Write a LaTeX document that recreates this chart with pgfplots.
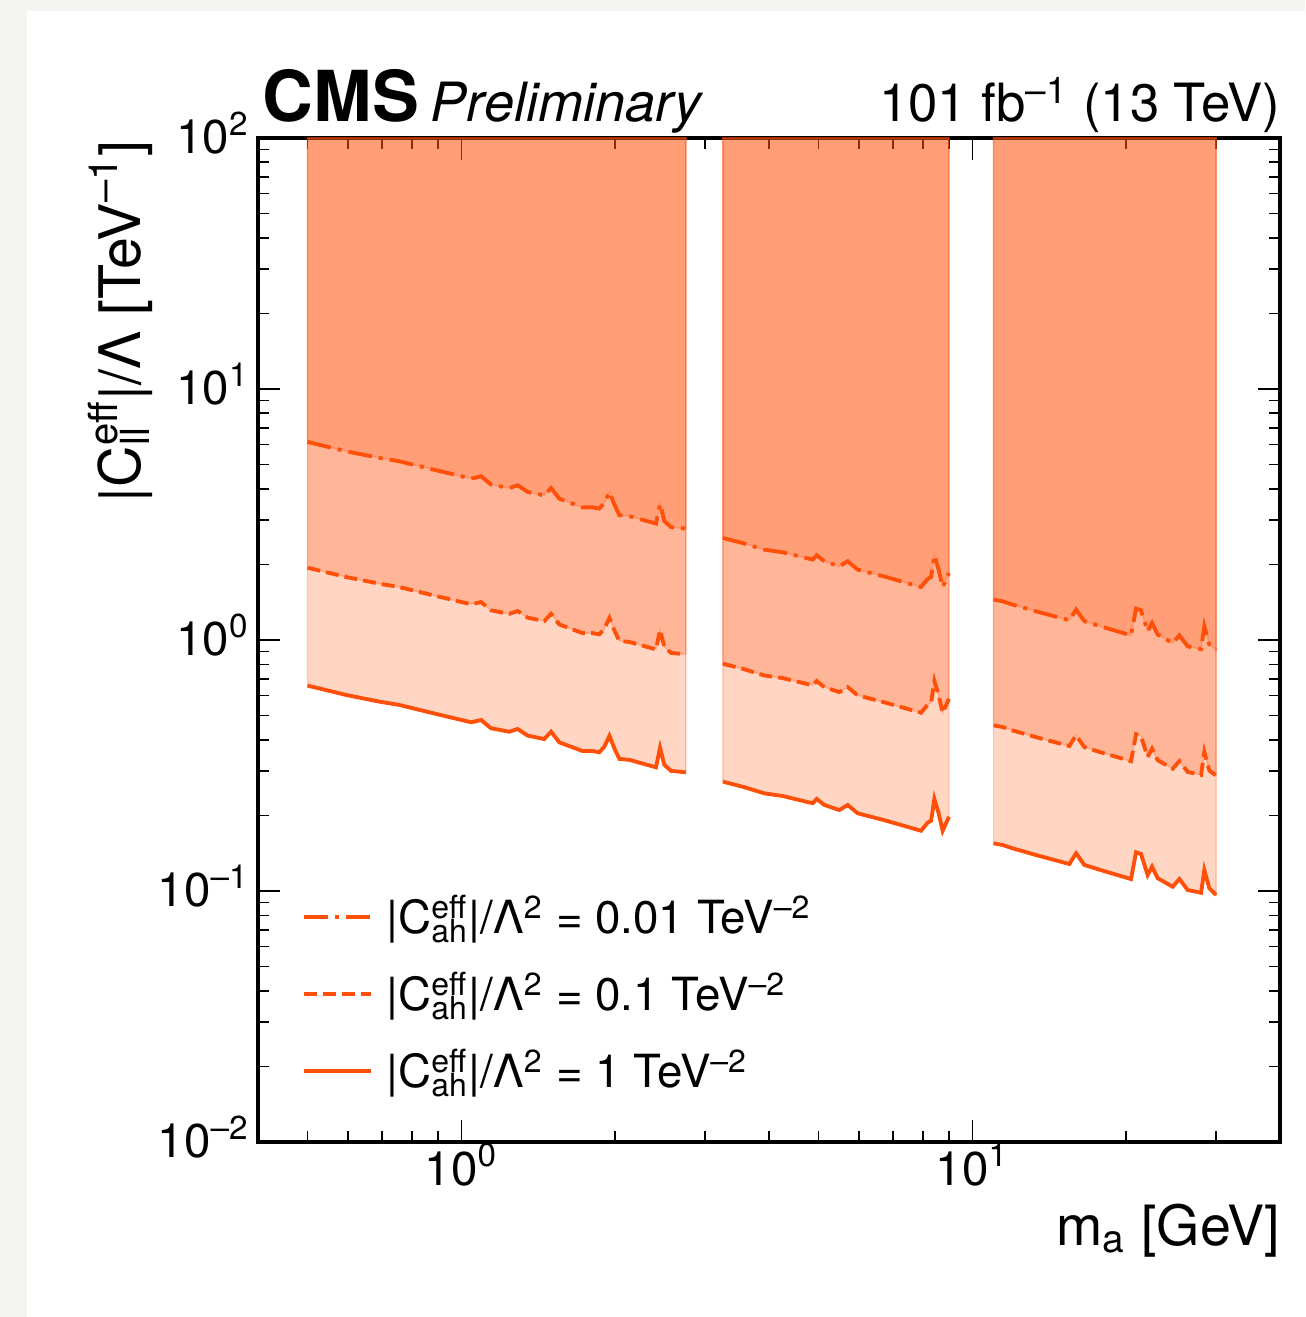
\documentclass[border=0pt]{standalone}
\usepackage{pgfplots}
\pgfplotsset{compat=1.18}
\usepackage{pgfplotstable}
\usepgfplotslibrary{fillbetween}
\usepackage{fontspec}
\setmainfont{TeX Gyre Heros}

\definecolor{lc}{RGB}{255,80,10}
\definecolor{framegray}{RGB}{244,244,240}

% stacked superscript / subscript
\newcommand\supsub[2]{%
  \setbox0=\hbox{\textsuperscript{#1}}%
  \setbox2=\hbox{\textsubscript{#2}}%
  \ifdim\wd0>\wd2 \rlap{\box2}\box0\else\rlap{\box0}\box2\fi}

% columns: m_a, limit for |C_ah|/L^2 = 1, 0.1, 0.01 TeV^-2
\pgfplotstableread{
x     s      d      dd
0.50  0.658  1.941  6.152
0.595 0.604  1.782  5.647
0.691 0.568  1.676  5.311
0.756 0.551  1.625  5.152
0.866 0.515  1.519  4.815
1.045 0.470  1.387  4.395
1.093 0.480  1.416  4.488
1.143 0.445  1.313  4.161
1.241 0.431  1.271  4.030
1.289 0.442  1.304  4.133
1.348 0.416  1.227  3.890
1.453 0.403  1.189  3.768
1.498 0.431  1.271  4.030
1.555 0.391  1.153  3.656
1.727 0.361  1.065  3.375
1.807 0.361  1.065  3.375
1.862 0.357  1.053  3.338
1.905 0.376  1.109  3.516
1.949 0.415  1.224  3.880
1.993 0.370  1.092  3.460
2.038 0.336  0.991  3.142
2.132 0.333  0.982  3.114
2.404 0.311  0.917  2.908
2.448 0.372  1.097  3.478
2.496 0.318  0.938  2.973
2.573 0.301  0.888  2.814
2.75  0.297  0.876  2.777
}\regA

\pgfplotstableread{
x     s      d      dd
3.25  0.2726 0.804  2.549
3.552 0.2603 0.768  2.434
3.917 0.2449 0.722  2.290
4.255 0.2390 0.705  2.235
4.870 0.2236 0.660  2.091
4.959 0.2326 0.686  2.175
5.133 0.2201 0.649  2.058
5.492 0.2102 0.620  1.965
5.702 0.2201 0.649  2.058
5.964 0.2040 0.602  1.907
6.779 0.1906 0.562  1.782
7.936 0.1738 0.513  1.625
8.176 0.1871 0.552  1.749
8.303 0.1906 0.562  1.782
8.427 0.2326 0.686  2.175
8.590 0.2040 0.602  1.907
8.748 0.1738 0.513  1.625
8.882 0.1861 0.549  1.740
9.0   0.1977 0.583  1.848
}\regB

\pgfplotstableread{
x     s      d      dd
11.0  0.1549 0.457  1.448
11.46 0.1525 0.450  1.426
11.99 0.1479 0.436  1.383
13.32 0.1391 0.410  1.301
15.48 0.1281 0.378  1.198
15.96 0.1413 0.417  1.321
16.57 0.1269 0.374  1.187
17.99 0.1205 0.355  1.127
20.44 0.1116 0.329  1.043
20.91 0.1426 0.421  1.333
21.38 0.1404 0.414  1.313
22.03 0.1158 0.342  1.083
22.47 0.1250 0.369  1.169
23.05 0.1124 0.332  1.051
24.66 0.1040 0.307  0.972
25.42 0.1116 0.329  1.043
26.39 0.1009 0.298  0.943
28.03 0.0984 0.290  0.920
28.44 0.1213 0.358  1.134
29.09 0.1025 0.302  0.958
30.0  0.0964 0.288  0.915
}\regC

\tikzset{
  lsolid/.style={lc, line width=1.1pt},
  ldash/.style={lc, line width=1.1pt, dash pattern=on 1.3mm off 0.6mm},
  ldashdot/.style={lc, line width=1.1pt, dash pattern=on 2.4mm off 0.7mm on 0.4mm off 0.7mm},
  band/.style={fill=lc, fill opacity=0.24, draw=lc, draw opacity=0.25, line width=0.4pt},
}

\begin{document}
\begin{tikzpicture}
% page margin strips
\fill[framegray] (-25.8mm,-17.5mm) rectangle (-23.1mm,114.2mm);
\fill[framegray] (-23.1mm,113.1mm) rectangle (104.7mm,114.2mm);
\begin{axis}[
  scale only axis, width=102.2mm, height=100.4mm,
  xmode=log, ymode=log,
  xmin=0.4, xmax=40, ymin=0.01, ymax=100,
  xtick={1,10},
  xticklabels={10\textsuperscript{0},10\textsuperscript{1}},
  minor xtick={0.5,0.6,0.7,0.8,0.9,2,3,4,5,6,7,8,9,20,30},
  ytick={0.01,0.1,1,10,100},
  yticklabels={10\textsuperscript{–2},10\textsuperscript{–1},10\textsuperscript{0},10\textsuperscript{1},10\textsuperscript{2}},
  minor ytick={0.02,0.03,0.04,0.05,0.06,0.07,0.08,0.09,0.2,0.3,0.4,0.5,0.6,0.7,0.8,0.9,2,3,4,5,6,7,8,9,20,30,40,50,60,70,80,90},
  tick align=inside,
  major tick length=2.2mm, minor tick length=1.1mm,
  tick style={black, line width=0.45pt},
  axis line style={line width=0.9pt},
  xticklabel style={font=\fontsize{13.5}{15}\selectfont, anchor=base, inner sep=0pt, yshift=-4.3mm},
  yticklabel style={font=\fontsize{13.5}{15}\selectfont, anchor=base east, inner sep=0pt, xshift=-0.8mm, yshift=-1.6mm},
  legend style={at={(rel axis cs:0.042,0.254)}, anchor=north west, draw=none, fill=none,
    font=\fontsize{13}{15}\selectfont, row sep=1.9mm, inner sep=0pt,
    /tikz/every odd column/.append style={column sep=0.7mm}},
  legend cell align=left,
  legend image code/.code={\draw[#1] (0mm,0mm) -- (6.7mm,0mm);},
]
% upper edges of the excluded regions
\addplot[draw=none, forget plot, name path=topA] coordinates {(0.5,100) (2.75,100)};
\addplot[draw=none, forget plot, name path=topB] coordinates {(3.25,100) (9.0,100)};
\addplot[draw=none, forget plot, name path=topC] coordinates {(11.0,100) (30.0,100)};

% lower edges of the excluded regions
\addplot[draw=none, forget plot, name path=ddA] table[x=x,y=dd]{\regA};
\addplot[draw=none, forget plot, name path=dA] table[x=x,y=d]{\regA};
\addplot[draw=none, forget plot, name path=sA] table[x=x,y=s]{\regA};
\addplot[draw=none, forget plot, name path=ddB] table[x=x,y=dd]{\regB};
\addplot[draw=none, forget plot, name path=dB] table[x=x,y=d]{\regB};
\addplot[draw=none, forget plot, name path=sB] table[x=x,y=s]{\regB};
\addplot[draw=none, forget plot, name path=ddC] table[x=x,y=dd]{\regC};
\addplot[draw=none, forget plot, name path=dC] table[x=x,y=d]{\regC};
\addplot[draw=none, forget plot, name path=sC] table[x=x,y=s]{\regC};

% excluded regions above each curve
\addplot[band, forget plot] fill between[of=topA and ddA];
\addplot[band, forget plot] fill between[of=topA and dA];
\addplot[band, forget plot] fill between[of=topA and sA];
\addplot[band, forget plot] fill between[of=topB and ddB];
\addplot[band, forget plot] fill between[of=topB and dB];
\addplot[band, forget plot] fill between[of=topB and sB];
\addplot[band, forget plot] fill between[of=topC and ddC];
\addplot[band, forget plot] fill between[of=topC and dC];
\addplot[band, forget plot] fill between[of=topC and sC];

% limit curves
\addplot[ldashdot] table[x=x,y=dd]{\regA};
\addlegendentry{|C\supsub{eff}{ah}|/Λ\textsuperscript{2} = 0.01 TeV\textsuperscript{–2}}
\addplot[ldash] table[x=x,y=d]{\regA};
\addlegendentry{|C\supsub{eff}{ah}|/Λ\textsuperscript{2} = 0.1 TeV\textsuperscript{–2}}
\addplot[lsolid] table[x=x,y=s]{\regA};
\addlegendentry{|C\supsub{eff}{ah}|/Λ\textsuperscript{2} = 1 TeV\textsuperscript{–2}}
\addplot[ldashdot, forget plot] table[x=x,y=dd]{\regB};
\addplot[ldash, forget plot] table[x=x,y=d]{\regB};
\addplot[lsolid, forget plot] table[x=x,y=s]{\regB};
\addplot[ldashdot, forget plot] table[x=x,y=dd]{\regC};
\addplot[ldash, forget plot] table[x=x,y=d]{\regC};
\addplot[lsolid, forget plot] table[x=x,y=s]{\regC};
\end{axis}

\node[anchor=base west, inner sep=0pt, font=\fontsize{20}{22}\selectfont\bfseries] at (0.4mm,102mm) {CMS};
\node[anchor=base west, inner sep=0pt, font=\fontsize{15.4}{18}\selectfont\itshape] at (17.2mm,102mm) {Preliminary};
\node[anchor=base east, inner sep=0pt, font=\fontsize{15}{17}\selectfont] at (102.3mm,102mm) {101 fb\textsuperscript{–1} (13 TeV)};
\node[anchor=base east, inner sep=0pt, font=\fontsize{15.8}{18}\selectfont] at (102.3mm,-10.3mm) {m\textsubscript{a} [GeV]};
\node[rotate=90, anchor=base east, inner sep=0pt, font=\fontsize{16.3}{19}\selectfont] at (-11.8mm,100.2mm) {|C\supsub{eff}{ll}|/Λ [TeV\textsuperscript{–1}]};

\pgfresetboundingbox
\useasboundingbox (-25.8mm,-17.5mm) rectangle (104.7mm,114.2mm);
\end{tikzpicture}
\end{document}
